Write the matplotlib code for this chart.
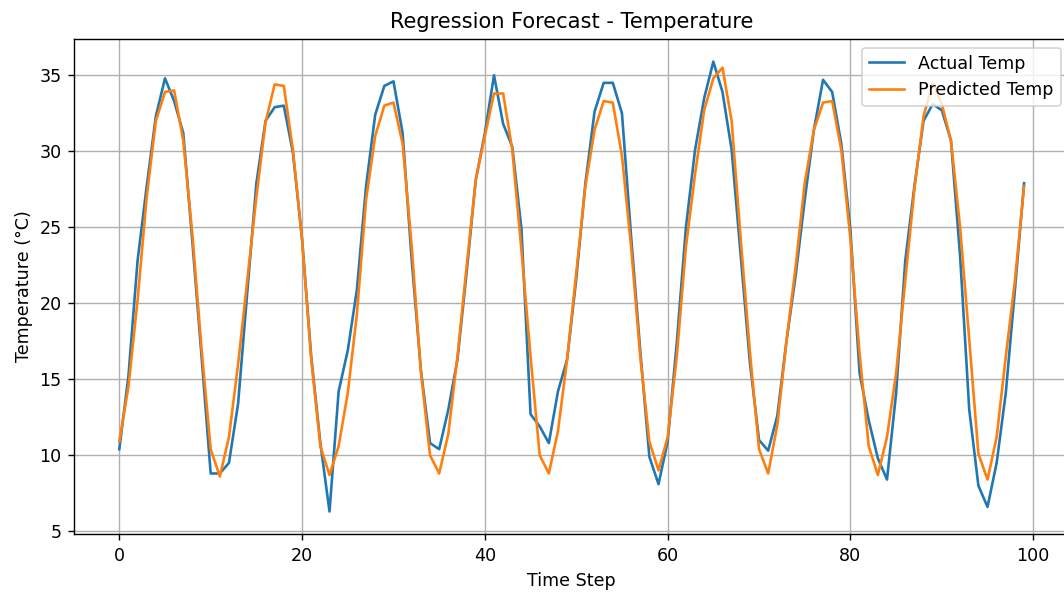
import matplotlib

matplotlib.use("Agg")
import matplotlib.pyplot as plt
import numpy as np

# values, one per time step (0..99)
actual_temp = [
    10.4, 15.2, 22.8, 27.7, 32.3, 34.8, 33.3, 31.2, 24.0, 16.5,
    8.8, 8.8, 9.5, 13.4, 20.7, 27.9, 32.0, 32.9, 33.0, 29.9,
    24.2, 16.5, 10.8, 6.3, 14.2, 16.9, 20.9, 27.7, 32.4, 34.3,
    34.6, 31.2, 22.8, 15.6, 10.8, 10.4, 13.0, 16.3, 22.0, 28.1,
    31.2, 35.0, 31.8, 30.3, 24.9, 12.7, 11.9, 10.8, 14.2, 16.3,
    21.6, 27.9, 32.6, 34.5, 34.5, 32.5, 24.4, 16.9, 9.9, 8.1,
    10.9, 17.4, 25.0, 30.1, 33.5, 35.9, 33.9, 30.1, 23.1, 16.1,
    11.0, 10.3, 12.6, 17.5, 21.8, 26.8, 31.4, 34.7, 33.9, 30.5,
    24.8, 15.4, 12.3, 9.8, 8.4, 14.1, 22.8, 27.7, 32.0, 33.1,
    32.7, 30.7, 23.1, 13.0, 8.0, 6.6, 9.5, 14.1, 20.9, 27.9,
]
predicted_temp = [
    10.9, 14.5, 20.2, 27.0, 32.0, 33.9, 34.0, 30.7, 24.5, 17.0,
    10.4, 8.6, 11.2, 16.0, 21.5, 27.0, 31.9, 34.4, 34.3, 30.1,
    24.2, 16.3, 10.6, 8.7, 10.6, 14.1, 19.3, 26.8, 31.0, 33.0,
    33.2, 30.5, 23.7, 15.5, 10.0, 8.8, 11.4, 16.5, 22.4, 28.1,
    31.0, 33.8, 33.8, 30.1, 23.5, 16.5, 10.0, 8.8, 11.6, 16.3,
    22.0, 27.7, 31.4, 33.3, 33.2, 29.7, 23.7, 16.5, 10.9, 9.0,
    11.2, 16.5, 23.7, 28.5, 32.7, 34.8, 35.5, 32.0, 24.2, 16.8,
    10.4, 8.8, 12.0, 17.5, 22.4, 27.9, 31.4, 33.2, 33.3, 30.1,
    24.2, 16.7, 10.6, 8.7, 11.2, 15.4, 21.5, 27.5, 32.3, 34.5,
    33.1, 30.7, 25.0, 17.6, 10.1, 8.4, 11.2, 16.5, 21.5, 27.7,
]
time_step = np.arange(len(actual_temp))

DPI = 126
fig = plt.figure(figsize=(1064 / DPI, 592 / DPI), dpi=DPI)
# the reference is cropped on the right, so the axes run past the figure edge
ax = fig.add_axes([0.0696, 0.0975, 0.9354, 0.837])

ax.plot(time_step, actual_temp, label="Actual Temp")
ax.plot(time_step, predicted_temp, label="Predicted Temp")
ax.set_xlim(-4.95, 103.95)
ax.set_ylim(4.8, 37.4)
ax.set_title("Regression Forecast - Temperature")
ax.set_xlabel("Time Step")
ax.set_ylabel("Temperature (°C)")
ax.legend(loc="upper right")
ax.grid(True)

fig.savefig("out.png", dpi=DPI)
plt.close(fig)
